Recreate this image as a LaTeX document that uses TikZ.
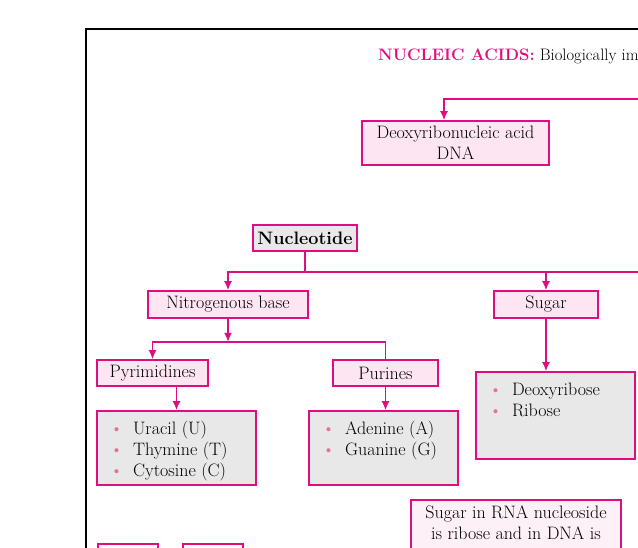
\documentclass[tikz,border=0pt]{standalone}
\usepackage{fontspec}
\usetikzlibrary{arrows.meta}
\definecolor{nucmag}{RGB}{222,14,128}
\definecolor{nucpink}{RGB}{253,230,242}
\definecolor{nucgray}{RGB}{232,232,232}
\definecolor{nucdot}{RGB}{230,110,160}
\newcommand{\itm}[1]{\makebox[23pt][l]{\textcolor{nucdot}{\textbullet}}#1}
\newcommand{\blist}[4]{\parbox[c][#2][t]{#1}{\vspace{#3}\leftskip=13pt\strut#4}}
\newcommand{\tnote}[4]{\parbox[c][#2][t]{#1}{\vspace{#3}\centering\strut#4\par}}
\begin{document}
\begin{tikzpicture}[x=1pt,y=-1pt,>={Latex[length=9pt,width=8pt]},
  font=\fontsize{18}{21}\selectfont,
  link/.style={draw=nucmag,line width=1.6pt},
  pinkbox/.style={draw=nucmag,fill=nucpink,line width=1.6pt,inner sep=0pt,align=center},
  graybox/.style={draw=nucmag,fill=nucgray,line width=1.6pt,inner sep=0pt}]
\useasboundingbox (0,0) rectangle (638,547);
\clip (0,0) rectangle (638,547);
\draw[line width=2.2pt] (86,560) -- (86,29) -- (650,29);
\node[anchor=base west,inner sep=0pt,font=\fontsize{16.6}{20}\selectfont] (title) at (378,60) {\textbf{\textcolor{nucmag}{NUCLEIC ACIDS:}} Biologically important};
\coordinate (acidsR) at (645,99);
\coordinate (nucR) at (645,272);
\node[pinkbox,minimum width=187,minimum height=44] (dna) at (455.5,143) {Deoxyribonucleic acid\\DNA};
\node[pinkbox,fill=nucgray,minimum width=104,minimum height=26] (nuc) at (305,238) {\textbf{Nucleotide}};
\node[pinkbox,minimum width=160,minimum height=27] (nitro) at (228,304.5) {Nitrogenous base};
\node[pinkbox,minimum width=104,minimum height=27] (sugar) at (546,304.5) {Sugar};
\node[pinkbox,minimum width=111,minimum height=26] (pyri) at (152.5,373) {Pyrimidines};
\node[pinkbox,minimum width=105,minimum height=26] (puri) at (385.5,373) {Purines};
\node[graybox] (pyrL) at (176.5,448) {\blist{159pt}{74pt}{9pt}{\itm{Uracil (U)}\\\itm{Thymine (T)}\\\itm{Cytosine (C)}}};
\node[graybox] (purL) at (383.5,448) {\blist{149pt}{74pt}{9pt}{\itm{Adenine (A)}\\\itm{Guanine (G)}}};
\node[graybox] (sugL) at (555.5,415.5) {\blist{159pt}{87pt}{9pt}{\itm{Deoxyribose}\\\itm{Ribose}}};
\node[pinkbox,fill=nucpink!60,anchor=north] (rnaNote) at (516,499) {\tnote{210pt}{70pt}{4pt}{Sugar in RNA nucleoside\\is ribose and in DNA is}};
\node[pinkbox,fill=white,anchor=north west,minimum width=60,minimum height=20] (extA) at (97,543) {};
\node[pinkbox,fill=white,anchor=north west,minimum width=60,minimum height=20] (extB) at (182,543) {};
\draw[->,link] (acidsR) -| ([xshift=-11.5pt]dna.north);
\draw[link] (nuc.south) -- (nuc.south |- nucR);
\draw[->,link] (nucR) -| (nitro.north);
\draw[->,link] (sugar.north |- nucR) -- (sugar.north);
\draw[->,link] (nitro.south) -- ++(0,23) coordinate (nitJ);
\draw[->,link] (nitJ) -| (pyri.north);
\draw[link] (nitJ) -| (puri.north);
\draw[->,link] (pyri.south -| pyrL.north) -- (pyrL.north);
\draw[->,link] (puri.south) -- (puri.south |- purL.north);
\draw[->,link] (sugar.south) -- (sugar.south |- sugL.north);
\end{tikzpicture}
\end{document}
